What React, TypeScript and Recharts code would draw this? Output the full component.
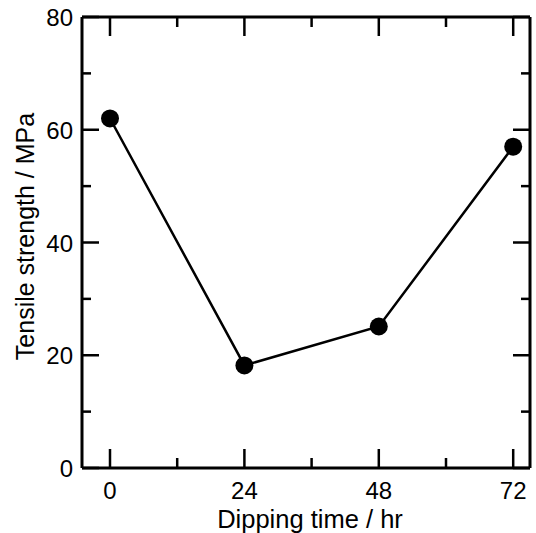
import React from "react";
import { LineChart, Line, XAxis, YAxis } from "recharts";

// values
const hours = [0, 24, 48, 72];
const strength = [62, 18.2, 25.1, 57];

const xTicks = [0, 12, 24, 36, 48, 60, 72];
const xMajor = [0, 24, 48, 72];
const yTicks = [0, 10, 20, 30, 40, 50, 60, 70, 80];
const yMajor = [0, 20, 40, 60, 80];

const data = hours.map((h, i) => ({ h, s: strength[i] }));

const FONT = '"Liberation Sans", Arial, Helvetica, sans-serif';
const INK = "#000";

type Side = "bottom" | "top" | "left" | "right";

const makeTick = (side: Side, labels: boolean) => (props: any) => {
  const { x, y, payload } = props;
  const v = payload.value;
  const vertical = side === "bottom" || side === "top";
  const major = (vertical ? xMajor : yMajor).includes(v);
  const len = vertical ? (major ? 19 : 10) : major ? 17 : 9;
  let x2 = x;
  let y2 = y;
  if (side === "bottom") y2 = y - len;
  if (side === "top") y2 = y + len;
  if (side === "left") x2 = x + len;
  if (side === "right") x2 = x - len;
  return (
    <g>
      <line x1={x} y1={y} x2={x2} y2={y2} stroke={INK} strokeWidth={2.5} />
      {labels && major && side === "bottom" && (
        <text x={x} y={y + 31} textAnchor="middle" fontSize={24} fontFamily={FONT} fill={INK}>
          {v}
        </text>
      )}
      {labels && major && side === "left" && (
        <text x={x - 9} y={y + 9} textAnchor="end" fontSize={24} fontFamily={FONT} fill={INK}>
          {v}
        </text>
      )}
    </g>
  );
};

const App = () => {
  return (
    <div style={{ position: "absolute", left: 0, top: 0, background: "#fff" }}>
      <LineChart width={536} height={533} data={data} margin={{ top: 16, right: 5, bottom: 0, left: 0 }}>
        <XAxis
          dataKey="h"
          type="number"
          domain={[-5, 75]}
          ticks={xTicks}
          interval={0}
          height={65}
          tickSize={0}
          tickMargin={0}
          tickLine={false}
          axisLine={{ stroke: INK, strokeWidth: 3 }}
          tick={makeTick("bottom", true)}
          label={{
            content: (p: any) => (
              <text
                x={p.viewBox.x + p.viewBox.width / 2 + 4}
                y={p.viewBox.y + 60}
                textAnchor="middle"
                fontSize={25.5}
                fontFamily={FONT}
                fill={INK}
              >
                Dipping time / hr
              </text>
            ),
          }}
        />
        <XAxis
          xAxisId="top"
          dataKey="h"
          orientation="top"
          type="number"
          domain={[-5, 75]}
          ticks={xTicks}
          interval={0}
          height={1}
          tickSize={0}
          tickMargin={0}
          tickLine={false}
          axisLine={{ stroke: INK, strokeWidth: 3 }}
          tick={makeTick("top", false)}
        />
        <YAxis
          type="number"
          domain={[0, 80]}
          ticks={yTicks}
          interval={0}
          width={82}
          tickSize={0}
          tickMargin={0}
          tickLine={false}
          axisLine={{ stroke: INK, strokeWidth: 3 }}
          tick={makeTick("left", true)}
          label={{
            content: (p: any) => {
              const cx = 25;
              const cy = p.viewBox.y + p.viewBox.height / 2 - 6;
              return (
                <text
                  x={cx}
                  y={cy}
                  transform={`rotate(-90 ${cx} ${cy})`}
                  textAnchor="middle"
                  dominantBaseline="central"
                  fontSize={25}
                  fontFamily={FONT}
                  fill={INK}
                >
                  Tensile strength / MPa
                </text>
              );
            },
          }}
        />
        <YAxis
          yAxisId="right"
          orientation="right"
          type="number"
          domain={[0, 80]}
          ticks={yTicks}
          interval={0}
          width={1}
          tickSize={0}
          tickMargin={0}
          tickLine={false}
          axisLine={{ stroke: INK, strokeWidth: 3 }}
          tick={makeTick("right", false)}
        />
        <Line
          dataKey="s"
          stroke={INK}
          strokeWidth={2.5}
          dot={{ r: 9, fill: INK, stroke: INK, strokeWidth: 0 }}
          isAnimationActive={false}
        />
        <Line
          xAxisId="top"
          yAxisId="right"
          dataKey="s"
          stroke="none"
          dot={false}
          activeDot={false}
          legendType="none"
          isAnimationActive={false}
        />
      </LineChart>
    </div>
  );
};

export default App;
